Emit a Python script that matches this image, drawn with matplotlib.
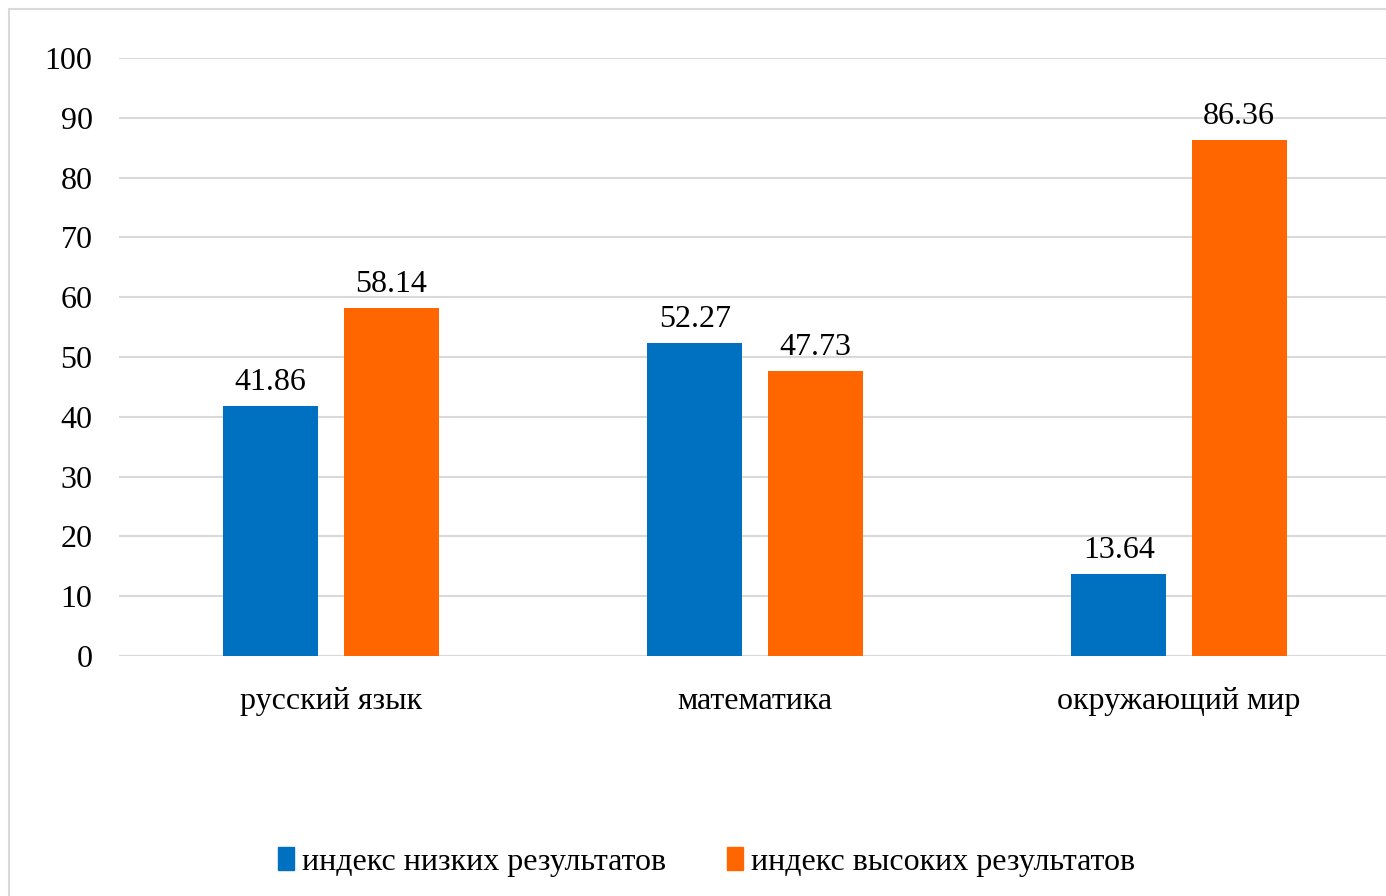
import numpy as np
import matplotlib.pyplot as plt
from matplotlib.patches import Rectangle, Patch

categories = ["русский язык", "математика", "окружающий мир"]
low_index = [41.86, 52.27, 13.64]
high_index = [58.14, 47.73, 86.36]
series_names = ["индекс низких результатов", "индекс высоких результатов"]
yticks = list(range(0, 101, 10))

plt.rcParams["font.family"] = ["Liberation Serif", "DejaVu Serif"]

W, H = 1386, 896
fig = plt.figure(figsize=(W / 100, H / 100), dpi=100)

# chart border (right and bottom edges fall outside the picture)
fig.patches.append(Rectangle((9 / W, -0.05), 1.1, 1.05 - 9 / H, transform=fig.transFigure,
                             fill=False, edgecolor="#d9d9d9", linewidth=1.5))

ax = fig.add_axes([119 / W, 1 - 656 / H, 1272 / W, 598 / H])
x = np.arange(len(categories))
w = 0.224
b1 = ax.bar(x - 0.142, low_index, w, color="#0070C0")
b2 = ax.bar(x + 0.142, high_index, w, color="#FF6600")

for bars, vals in [(b1, low_index), (b2, high_index)]:
    for r, v in zip(bars, vals):
        ax.text(r.get_x() + r.get_width() / 2, v + 1.5, f"{v:.2f}",
                ha="center", va="bottom", fontsize=23)

ax.set_xlim(-0.5, len(categories) - 0.5)
ax.set_ylim(0, 100)
ax.set_yticks(yticks)
ax.set_xticks(x)
ax.set_xticklabels(categories)
ax.tick_params(axis="both", length=0, labelsize=23)
ax.tick_params(axis="y", pad=19)
ax.tick_params(axis="x", pad=22)
ax.grid(axis="y", color="#d9d9d9", linewidth=1.5)
ax.set_axisbelow(True)
for s in ax.spines.values():
    s.set_visible(False)

handles = [Patch(color="#0070C0"), Patch(color="#FF6600")]
fig.legend(handles, series_names, loc="center", bbox_to_anchor=(0.51, 1 - 862 / H),
           ncol=2, frameon=False, fontsize=23, handlelength=0.5, handleheight=0.75,
           handletextpad=0.25, columnspacing=1.9)

fig.savefig("out.png", dpi=100)
